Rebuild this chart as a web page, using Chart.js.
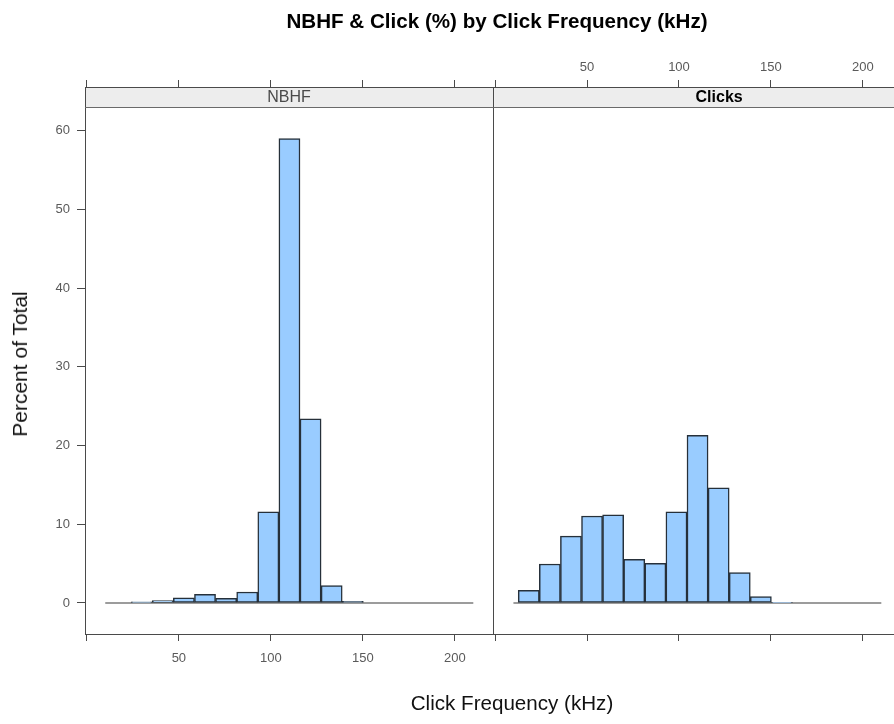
<!DOCTYPE html>
<html>
<head>
<meta charset="utf-8">
<script src="https://cdn.jsdelivr.net/npm/chart.js@4.4.1/dist/chart.umd.min.js"></script>
<style>
  html, body { margin: 0; padding: 0; background: #fff; }
  body { position: relative; width: 894px; height: 724px; overflow: hidden;
         font-family: "Liberation Sans", Arial, Helvetica, sans-serif; }
  canvas { position: absolute; top: 0; }
  #panelA { left: 0; }
  #panelB { left: 485px; }
  .label { position: absolute; white-space: nowrap; color: #000; }
  #mainTitle { left: 497px; top: 9px; font-size: 20.6px; font-weight: bold; line-height: 24px; transform: translateX(-50%); }
  #xTitle { left: 512px; top: 691px; font-size: 20.6px; line-height: 24px; transform: translateX(-50%); color: #111; }
  #yTitle { left: 20px; top: 364px; font-size: 21px; line-height: 24px; transform: translate(-50%, -50%) rotate(-90deg); color: #111; }
</style>
</head>
<body>
<canvas id="panelA" width="500" height="724"></canvas>
<canvas id="panelB" width="430" height="724"></canvas>
<div class="label" id="mainTitle">NBHF &amp; Click (%) by Click Frequency (kHz)</div>
<div class="label" id="xTitle">Click Frequency (kHz)</div>
<div class="label" id="yTitle">Percent of Total</div>
<script>
// Histogram bins (kHz): first break and bin width
const binStart = 12.6;
const binWidth = 11.47;

// Percent of total per bin
const nbhfPercent   = [0, 0.15, 0.3, 0.65, 1.1, 0.6, 1.4, 11.6, 59.0, 23.4, 2.2, 0.2, 0, 0, 0, 0, 0];
const clicksPercent = [1.6, 4.95, 8.5, 11.05, 11.2, 5.55, 5.05, 11.6, 21.3, 14.65, 3.85, 0.8, 0.1, 0, 0, 0, 0];

// Frequency range covered by the histogram baseline
const freqRange = [10, 210];

// Axis ticks
const xTickValues = [0, 50, 100, 150, 200];
const yTickValues = [0, 10, 20, 30, 40, 50, 60];

const panelNames = ['NBHF', 'Clicks'];

const binCenters = nbhfPercent.map((_, i) => binStart + binWidth * (i + 0.5));

const AXIS = '#4a4a4a';
const TICK_TEXT = '#5a5a5a';
const TICK_FONT = { size: 13, family: '"Liberation Sans", Arial, sans-serif' };
const X_MIN = -1, X_MAX = 220.7;
const Y_MIN = -3.94, Y_MAX = 65.57;

// Grey strip with the panel name along the top of the plotting area
const stripPlugin = {
  id: 'strip',
  beforeDatasetsDraw(chart, args, opts) {
    const { ctx, chartArea: { left, right, top } } = chart;
    ctx.save();
    ctx.fillStyle = '#ededed';
    ctx.fillRect(left + 1, top + 1, right - left - 1, 19);
    ctx.strokeStyle = '#6a6a6a';
    ctx.lineWidth = 1;
    ctx.beginPath();
    ctx.moveTo(left, top + 20.5);
    ctx.lineTo(right, top + 20.5);
    ctx.stroke();
    ctx.font = opts.font;
    ctx.fillStyle = opts.color;
    ctx.textAlign = 'center';
    ctx.textBaseline = 'middle';
    ctx.fillText(opts.text, left + (right - left) * opts.pos, top + 11);
    ctx.restore();
  }
};

function xAxis(position, showLabels, height) {
  return {
    type: 'linear', position, min: X_MIN, max: X_MAX, offset: false,
    grid: { drawOnChartArea: false, drawTicks: true, tickLength: 7, color: AXIS, offset: false },
    border: { display: true, color: AXIS, width: 1 },
    ticks: {
      color: TICK_TEXT, font: TICK_FONT,
      padding: position === 'top' ? 5 : 10, maxRotation: 0, autoSkip: false,
      callback: v => (showLabels && v !== 0) ? String(v) : ''
    },
    afterBuildTicks: s => { s.ticks = xTickValues.map(v => ({ value: v })); },
    afterFit: s => { s.height = height; }
  };
}

function makePanel(id, values, opts) {
  return new Chart(document.getElementById(id), {
    type: 'bar',
    data: {
      datasets: [
        {
          type: 'bar',
          data: binCenters.map((c, i) => ({ x: c, y: values[i] })),
          backgroundColor: '#99ccff',
          borderColor: '#26303a',
          borderWidth: 1.5,
          borderSkipped: false,
          barPercentage: 1,
          categoryPercentage: 1,
          order: 1
        },
        {
          type: 'line',
          data: freqRange.map(v => ({ x: v, y: 0 })),
          borderColor: '#3a3a3a',
          borderWidth: 1.2,
          pointRadius: 0,
          order: 2
        }
      ]
    },
    options: {
      responsive: false,
      animation: false,
      events: [],
      layout: { padding: { left: 0, right: opts.padRight, top: 0, bottom: 0 } },
      plugins: {
        legend: { display: false },
        tooltip: { enabled: false },
        strip: { text: opts.name, font: opts.stripFont, color: opts.stripColor, pos: opts.stripPos }
      },
      scales: {
        x: xAxis('bottom', opts.bottomLabels, 90),
        xTop: xAxis('top', opts.topLabels, 87),
        y: {
          type: 'linear', position: 'left', min: Y_MIN, max: Y_MAX,
          grid: { drawOnChartArea: false, drawTicks: opts.yLabels, tickLength: 8, color: AXIS },
          border: { display: true, color: AXIS, width: 1 },
          ticks: { display: opts.yLabels, color: TICK_TEXT, padding: 7, font: TICK_FONT },
          afterBuildTicks: s => { s.ticks = yTickValues.map(v => ({ value: v })); },
          afterFit: s => { s.width = opts.yWidth; }
        }
      }
    },
    plugins: [stripPlugin]
  });
}

makePanel('panelA', nbhfPercent, {
  name: panelNames[0], stripFont: '16px "Liberation Sans", Arial, sans-serif', stripColor: '#4a4a4a', stripPos: 0.5,
  bottomLabels: true, topLabels: false, yLabels: true, yWidth: 85, padRight: 7
});

makePanel('panelB', clicksPercent, {
  name: panelNames[1], stripFont: 'bold 16px "Liberation Sans", Arial, sans-serif', stripColor: '#000', stripPos: 0.554,
  bottomLabels: false, topLabels: true, yLabels: false, yWidth: 8, padRight: 14
});
</script>
</body>
</html>
